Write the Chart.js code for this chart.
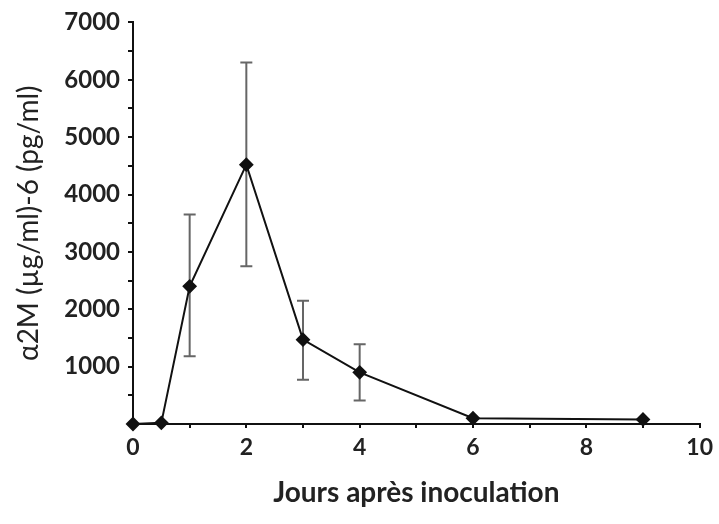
<!DOCTYPE html>
<html>
<head>
<meta charset="utf-8">
<script src="https://cdn.jsdelivr.net/npm/chart.js@4"></script>
<style>
  html, body { margin: 0; padding: 0; background: #fff; }
  #wrap { width: 719px; height: 524px; }
</style>
</head>
<body>
<div id="wrap"><canvas id="c" width="719" height="524"></canvas></div>
<script>
// Values
const days = [0, 0.5, 1, 2, 3, 4, 6, 9];
const values = [0, 20, 2400, 4520, 1470, 900, 100, 80];
const errLow = [null, null, 1180, 2750, 770, 410, null, null];
const errHigh = [null, null, 3650, 6300, 2150, 1390, null, null];

const xTitle = 'Jours après inoculation';
const yTitle = 'α2M (µg/ml)-6 (pg/ml)';

// Draw the vertical error bars with caps
const errorBars = {
  id: 'errorBars',
  beforeDatasetsDraw(chart) {
    const ctx = chart.ctx;
    const xs = chart.scales.x, ys = chart.scales.y;
    ctx.save();
    ctx.strokeStyle = '#666';
    ctx.lineWidth = 2;
    for (let i = 0; i < days.length; i++) {
      if (errLow[i] == null) continue;
      const px = xs.getPixelForValue(days[i]);
      const yl = ys.getPixelForValue(errLow[i]);
      const yh = ys.getPixelForValue(errHigh[i]);
      ctx.beginPath();
      ctx.moveTo(px, yl); ctx.lineTo(px, yh);
      ctx.moveTo(px - 6, yl); ctx.lineTo(px + 6, yl);
      ctx.moveTo(px - 6, yh); ctx.lineTo(px + 6, yh);
      ctx.stroke();
    }
    ctx.restore();
  }
};

const points = days.map((d, i) => ({ x: d, y: values[i] }));

new Chart(document.getElementById('c'), {
  type: 'line',
  data: {
    datasets: [{
      data: points,
      borderColor: '#111',
      borderWidth: 2,
      backgroundColor: '#111',
      pointStyle: 'rectRot',
      pointRadius: 6,
      pointBackgroundColor: '#111',
      pointBorderColor: '#111',
      tension: 0,
      clip: false
    }]
  },
  options: {
    responsive: false,
    animation: false,
    layout: { padding: { top: 6, right: 16, left: 0, bottom: 0 } },
    plugins: { legend: { display: false }, tooltip: { enabled: false } },
    scales: {
      x: {
        type: 'linear',
        min: 0, max: 10,
        afterFit(s) { s.height = 100; },
        border: { color: '#111', width: 2 },
        grid: { drawOnChartArea: false, color: '#111', tickLength: 4, lineWidth: 2 },
        ticks: {
          stepSize: 1,
          autoSkip: false,
          maxRotation: 0,
          color: '#222',
          padding: 6,
          font: { family: 'Lato', size: 23, weight: 'bold' },
          callback: v => (v % 2 === 0 ? String(v) : '')
        },
        title: {
          display: true,
          text: xTitle,
          color: '#222',
          font: { family: 'Lato', size: 28, weight: 'bold' },
          padding: { top: 0, bottom: 14 }
        }
      },
      y: {
        min: 0, max: 7000,
        afterFit(s) { s.width = 133; },
        border: { color: '#111', width: 2 },
        grid: { drawOnChartArea: false, color: '#111', tickLength: 5, lineWidth: 2 },
        ticks: {
          stepSize: 500,
          autoSkip: false,
          color: '#222',
          padding: 8,
          font: { family: 'Lato', size: 24, weight: 'bold' },
          callback: v => (v > 0 && v % 1000 === 0 ? String(v) : '')
        },
        title: {
          display: true,
          text: yTitle,
          color: '#222',
          font: { family: 'Lato', size: 28 },
          padding: { top: 12, bottom: 0 }
        }
      }
    }
  },
  plugins: [errorBars]
});
</script>
</body>
</html>
